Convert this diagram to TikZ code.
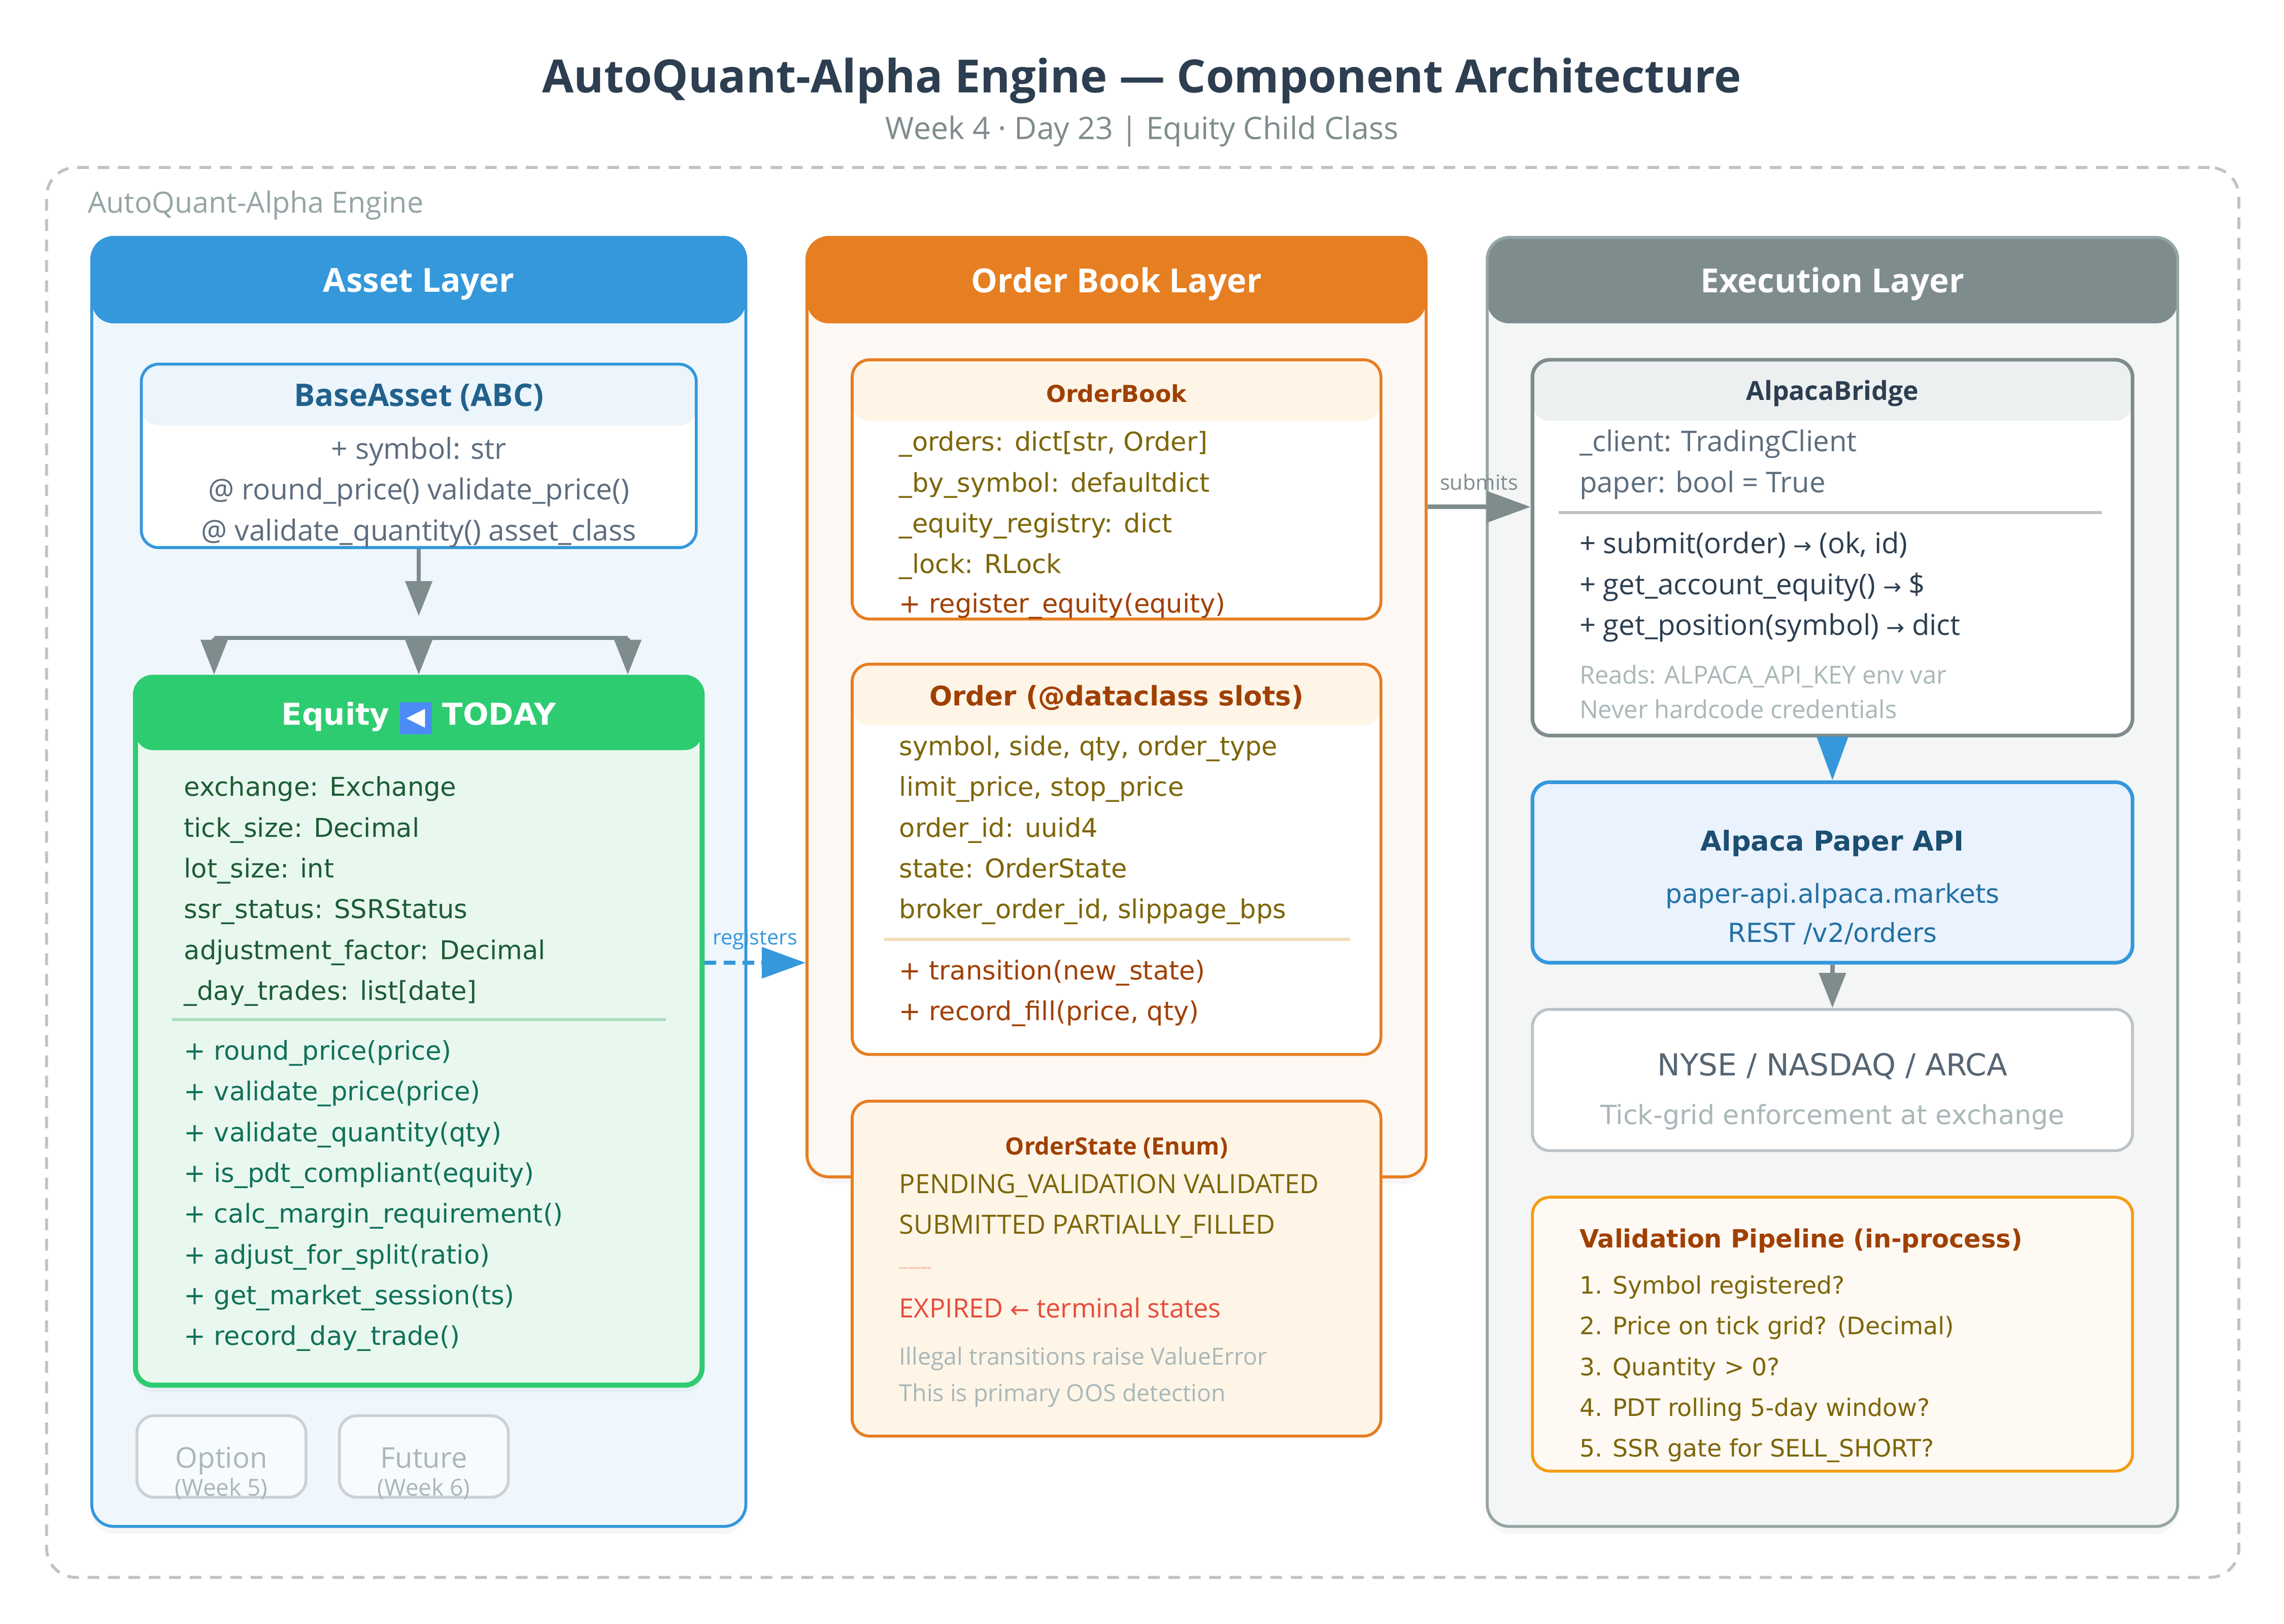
\documentclass[tikz,border=0pt]{standalone}
\usepackage{fontspec}
\setmainfont{Open Sans}
\newfontfamily\dejavu{DejaVu Sans}
\usetikzlibrary{arrows.meta, shadows}
\definecolor{cdark}{HTML}{2C3E50}
\definecolor{cgray}{HTML}{7F8C8D}
\definecolor{clight}{HTML}{BDC3C7}
\definecolor{cmute}{HTML}{95A5A6}
\definecolor{cfaint}{HTML}{AAB7B8}
\definecolor{cslate}{HTML}{5D6D7E}
\definecolor{cblue}{HTML}{3498DB}
\definecolor{cbluebg}{HTML}{EFF7FD}
\definecolor{cbluehd}{HTML}{EBF5FB}
\definecolor{cbluetx}{HTML}{21618C}
\definecolor{cgreen}{HTML}{2ECC71}
\definecolor{cgreenbg}{HTML}{E9F8EF}
\definecolor{cgreensep}{HTML}{A9DFBF}
\definecolor{cgreenfld}{HTML}{1D5C36}
\definecolor{cgreenmth}{HTML}{11715A}
\definecolor{corange}{HTML}{E67E22}
\definecolor{corangebg}{HTML}{FDF8F3}
\definecolor{corangehd}{HTML}{FEF5E7}
\definecolor{corangesep}{HTML}{F0DDB8}
\definecolor{cbrown}{HTML}{A04000}
\definecolor{colive}{HTML}{7D6608}
\definecolor{cexecbg}{HTML}{F4F5F5}
\definecolor{cexechd}{HTML}{ECF0F1}
\definecolor{capibg}{HTML}{EAF2FD}
\definecolor{capitl}{HTML}{1B4F72}
\definecolor{capitx}{HTML}{2471A3}
\definecolor{cnyse}{HTML}{566573}
\definecolor{cyellow}{HTML}{F39C12}
\definecolor{cvalbg}{HTML}{FEF9F3}
\definecolor{cred}{HTML}{E74C3C}
\definecolor{cstub}{HTML}{CCD1D6}
\definecolor{cstubbg}{HTML}{F7FBFE}
\definecolor{cemoji}{HTML}{4C8BF5}
\newcommand\setfs[2]{\fontsize{#1}{#2}\selectfont}
\newcommand\eqbadge{{\setlength\fboxsep{2.2pt}\colorbox{cemoji}{\textcolor{white}{\setfs{8.5}{8.5}◀}}}}
\tikzset{
  panel/.style={draw=#1, line width=1pt, rounded corners=7.5pt, inner sep=0pt,
    drop shadow={shadow xshift=0pt, shadow yshift=-2.5pt, opacity=0.07}},
  cls/.style={draw=#1, line width=1pt, rounded corners=6pt, fill=white, inner sep=0pt},
  hdr/.style 2 args={path picture={\fill[#1] ([yshift=1pt]path picture bounding box.north west) rectangle ([yshift=-#2]path picture bounding box.north east);}},
  stub/.style={draw=cstub, line width=1pt, rounded corners=6pt, fill=cstubbg, inner sep=0pt},
  txt/.style={inner sep=0pt, yshift=-1pt},
  lst/.style={inner sep=0pt, yshift=-1pt, align=left, anchor=west},
  lyr/.style={inner sep=0pt, yshift=-1pt, font=\bfseries\setfs{11.4}{14}, text=white},
  gline/.style={draw=cgray, line width=1.5pt},
  gtip/.style={gline, -{Triangle[length=12pt,width=9pt]}},
  btip/.style={draw=cblue, line width=1.5pt, -{Triangle[length=15pt,width=10.5pt]}}
}
\begin{document}
\begin{tikzpicture}[x=0.5pt, y=-0.5pt]
\useasboundingbox (0,0) rectangle (1568,1115);
\fill[white] (0,0) rectangle (1568,1115);
\node[txt, font=\bfseries\setfs{15.7}{19}, text=cdark] (title) at (784,53.5) {AutoQuant-Alpha Engine — Component Architecture};
\node[txt, font=\setfs{10.6}{13}, text=cgray] (subtitle) at (784,88) {Week 4 · Day 23 | Equity Child Class};
\node[draw=clight, line width=1pt, dash pattern=on 4pt off 3pt, rounded corners=10pt, inner sep=0pt, minimum width=752.5pt, minimum height=484pt] (engine) at (784.5,599) {};
\node[txt, font=\setfs{10}{12}, text=cmute, anchor=west] (enginelbl) at (60,139) {AutoQuant-Alpha Engine};

\node[panel=cblue, fill=cbluebg, hdr={cblue}{29.5pt}, minimum width=224.5pt, minimum height=442.5pt] (assetlayer) at (287.5,605.5) {};
\node[lyr] (assethd) at (287.5,193) {Asset Layer};
\node[panel=corange, fill=corangebg, hdr={corange}{29.5pt}, minimum width=212.5pt, minimum height=322.5pt] (orderlayer) at (766.5,485.5) {};
\node[lyr] (orderlayerhd) at (766.5,193) {Order Book Layer};
\node[panel=cmute, fill=cexecbg, hdr={cgray}{29.5pt}, minimum width=237pt, minimum height=442.5pt] (execlayer) at (1258,605.5) {};
\node[lyr] (exechd) at (1258,193) {Execution Layer};

\node[cls=cblue, hdr={cbluehd}{21pt}, minimum width=190.5pt, minimum height=63pt] (base) at (287.5,313) {};
\node[txt, font=\bfseries\setfs{10.7}{13}, text=cbluetx] (basehd) at (287.5,271) {BaseAsset (ABC)};
\node[txt, font=\setfs{9.9}{14}, text=cslate, align=center] (basebody) at (287.5,336) {+ symbol: str\\@ round\_price() validate\_price()\\@ validate\_quantity() asset\_class};

\node[cls=cgreen, line width=1.75pt, fill=cgreenbg, hdr={cgreen}{25pt}, minimum width=194.5pt, minimum height=243pt, drop shadow={shadow xshift=0pt, shadow yshift=-2.5pt, opacity=0.07}] (equity) at (287.5,708) {};
\node[txt, font=\dejavu\bfseries\setfs{10.35}{12}, text=white] (equityhd) at (287.5,491) {Equity \eqbadge\ TODAY};
\node[lst, font=\dejavu\setfs{8.9}{14}, text=cgreenfld] (equityfld) at (126,610) {exchange: Exchange\\tick\_size: Decimal\\lot\_size: int\\ssr\_status: SSRStatus\\adjustment\_factor: Decimal\\\_day\_trades: list[date]};
\draw[cgreensep, line width=1pt] (118,700) -- (457,700);
\node[lst, font=\dejavu\setfs{8.9}{14}, text=cgreenmth] (equitymth) at (126,819) {+ round\_price(price)\\+ validate\_price(price)\\+ validate\_quantity(qty)\\+ is\_pdt\_compliant(equity)\\+ calc\_margin\_requirement()\\+ adjust\_for\_split(ratio)\\+ get\_market\_session(ts)\\+ record\_day\_trade()};

\node[stub, minimum width=58pt, minimum height=28pt] (option) at (152,1000) {};
\node[txt, anchor=base, font=\setfs{9.8}{12}, text=cfaint] (optionlbl) at (152,1006) {Option};
\node[txt, anchor=base, font=\setfs{8}{10}, text=cfaint] (optionwk) at (152,1025) {(Week 5)};
\node[stub, minimum width=58pt, minimum height=28pt] (future) at (291,1000) {};
\node[txt, anchor=base, font=\setfs{9.8}{12}, text=cfaint] (futurelbl) at (291,1006) {Future};
\node[txt, anchor=base, font=\setfs{8}{10}, text=cfaint] (futurewk) at (291,1025) {(Week 6)};

\node[cls=corange, hdr={corangehd}{21pt}, minimum width=181.5pt, minimum height=89pt] (orderbook) at (766.5,336) {};
\node[txt, font=\dejavu\bfseries\setfs{8}{10}, text=cbrown] (orderbookhd) at (766.5,268) {OrderBook};
\node[lst, font=\dejavu\setfs{8.9}{14}, text=colive] (orderbookfld) at (617,345) {\_orders: dict[str, Order]\\\_by\_symbol: defaultdict\\\_equity\_registry: dict\\\_lock: RLock};
\node[lst, font=\dejavu\setfs{8.9}{14}, text=cbrown] (orderbookmth) at (617,414) {+ register\_equity(equity)};

\node[cls=corange, hdr={corangehd}{21pt}, minimum width=181.5pt, minimum height=134pt] (order) at (766.5,590) {};
\node[txt, font=\dejavu\bfseries\setfs{9.25}{12}, text=cbrown] (orderhd) at (766.5,477) {Order (@dataclass slots)};
\node[lst, font=\dejavu\setfs{8.9}{14}, text=colive] (orderfld) at (617,568) {symbol, side, qty, order\_type\\limit\_price, stop\_price\\order\_id: uuid4\\state: OrderState\\broker\_order\_id, slippage\_bps};
\draw[corangesep, line width=1pt] (607,645) -- (927,645);
\node[lst, font=\dejavu\setfs{8.9}{14}, text=cbrown] (ordermth) at (617,680) {+ transition(new\_state)\\+ record\_fill(price, qty)};

\node[cls=corange, fill=corangehd, minimum width=181.5pt, minimum height=115pt] (orderstate) at (766.5,871) {};
\node[txt, font=\bfseries\setfs{8.2}{10}, text=cbrown] (orderstatehd) at (766.5,786) {OrderState (Enum)};
\node[lst, font=\setfs{9.1}{14}, text=colive] (orderstatelst) at (617,826) {PENDING\_VALIDATION VALIDATED\\SUBMITTED PARTIALLY\_FILLED};
\node[lst, font=\setfs{0.8}{1}, text=cred] (orderstatetiny) at (617,869) {FILLED CANCELLED REJECTED};
\node[lst, font=\setfs{9.1}{12}, text=cred] (orderstateend) at (617,896) {EXPIRED {\dejavu\setfs{8}{12}←} terminal states};
\node[lst, font=\setfs{8.1}{12.5}, text=cfaint] (orderstatenote) at (617,943.5) {Illegal transitions raise ValueError\\This is primary OOS detection};

\node[cls=cgray, line width=1.25pt, hdr={cexechd}{21pt}, minimum width=206pt, minimum height=129pt] (bridge) at (1258,376) {};
\node[txt, font=\bfseries\setfs{9}{11}, text=cdark] (bridgehd) at (1258,268) {AlpacaBridge};
\node[lst, font=\setfs{9.8}{14}, text=cslate] (bridgefld) at (1084,317) {\_client: TradingClient\\paper: bool = True};
\draw[clight, line width=1pt] (1070,352) -- (1443,352);
\node[lst, font=\setfs{9.8}{14}, text=cdark] (bridgemth) at (1084,401) {+ submit(order) {\dejavu\setfs{7.5}{14}→} (ok, id)\\+ get\_account\_equity() {\dejavu\setfs{7.5}{14}→} \$\\+ get\_position(symbol) {\dejavu\setfs{7.5}{14}→} dict};
\node[lst, font=\setfs{8.5}{12}, text=cfaint] (bridgenote) at (1084,473) {Reads: ALPACA\_API\_KEY env var\\Never hardcode credentials};

\node[cls=cblue, line width=1.25pt, fill=capibg, minimum width=206pt, minimum height=62pt] (api) at (1258,599) {};
\node[txt, font=\dejavu\bfseries\setfs{9.4}{12}, text=capitl] (apihd) at (1258,577) {Alpaca Paper API};
\node[txt, font=\dejavu\setfs{9}{13.5}, text=capitx, align=center] (apibody) at (1258,625.5) {paper-api.alpaca.markets\\REST /v2/orders};

\node[cls=clight, minimum width=206pt, minimum height=48.5pt] (nyse) at (1258,741.5) {};
\node[txt, font=\dejavu\setfs{10.4}{12}, text=cnyse] (nysehd) at (1258,730) {NYSE / NASDAQ / ARCA};
\node[txt, font=\dejavu\setfs{9.1}{11}, text=cfaint] (nysebody) at (1258,765) {Tick-grid enforcement at exchange};

\node[cls=cyellow, fill=cvalbg, minimum width=206pt, minimum height=94pt] (pipeline) at (1258,916) {};
\node[lst, font=\dejavu\bfseries\setfs{8.6}{11}, text=cbrown] (pipelinehd) at (1084,850) {Validation Pipeline (in-process)};
\node[lst, font=\dejavu\setfs{8.25}{14}, text=colive] (pipelinelst) at (1084,938) {1. Symbol registered?\\2. Price on tick grid? (Decimal)\\3. Quantity > 0?\\4. PDT rolling 5-day window?\\5. SSR gate for SELL\_SHORT?};

\coordinate (split) at (287.5,423);
\coordinate (busW) at (147,438);
\coordinate (busM) at (287.5,438);
\coordinate (busE) at (431,438);
\draw[gtip] (base.south) -- (split);
\draw[gline] (busW) -- (busE);
\draw[gtip] (busW) -- (busW |- equity.north);
\draw[gtip] (busM) -- (equity.north);
\draw[gtip] (busE) -- (busE |- equity.north);
\draw[btip, line width=1.35pt, dash pattern=on 4pt off 2.5pt] ([yshift=23.5pt]equity.east) -- ([yshift=23.5pt]equity.east -| orderlayer.west) node[txt, midway, yshift=9pt, font=\setfs{7.2}{9}, text=cblue] (reglbl) {registers};
\draw[gline, -{Triangle[length=15pt,width=10.5pt]}] ([yshift=14pt]bridge.west -| orderlayer.east) -- ([yshift=14pt]bridge.west) node[txt, midway, yshift=9.5pt, font=\setfs{7.2}{9}, text=cgray] (sublbl) {submits};
\draw[btip] (bridge.south) -- (api.north);
\draw[gtip] (api.south) -- (nyse.north);
\end{tikzpicture}
\end{document}
